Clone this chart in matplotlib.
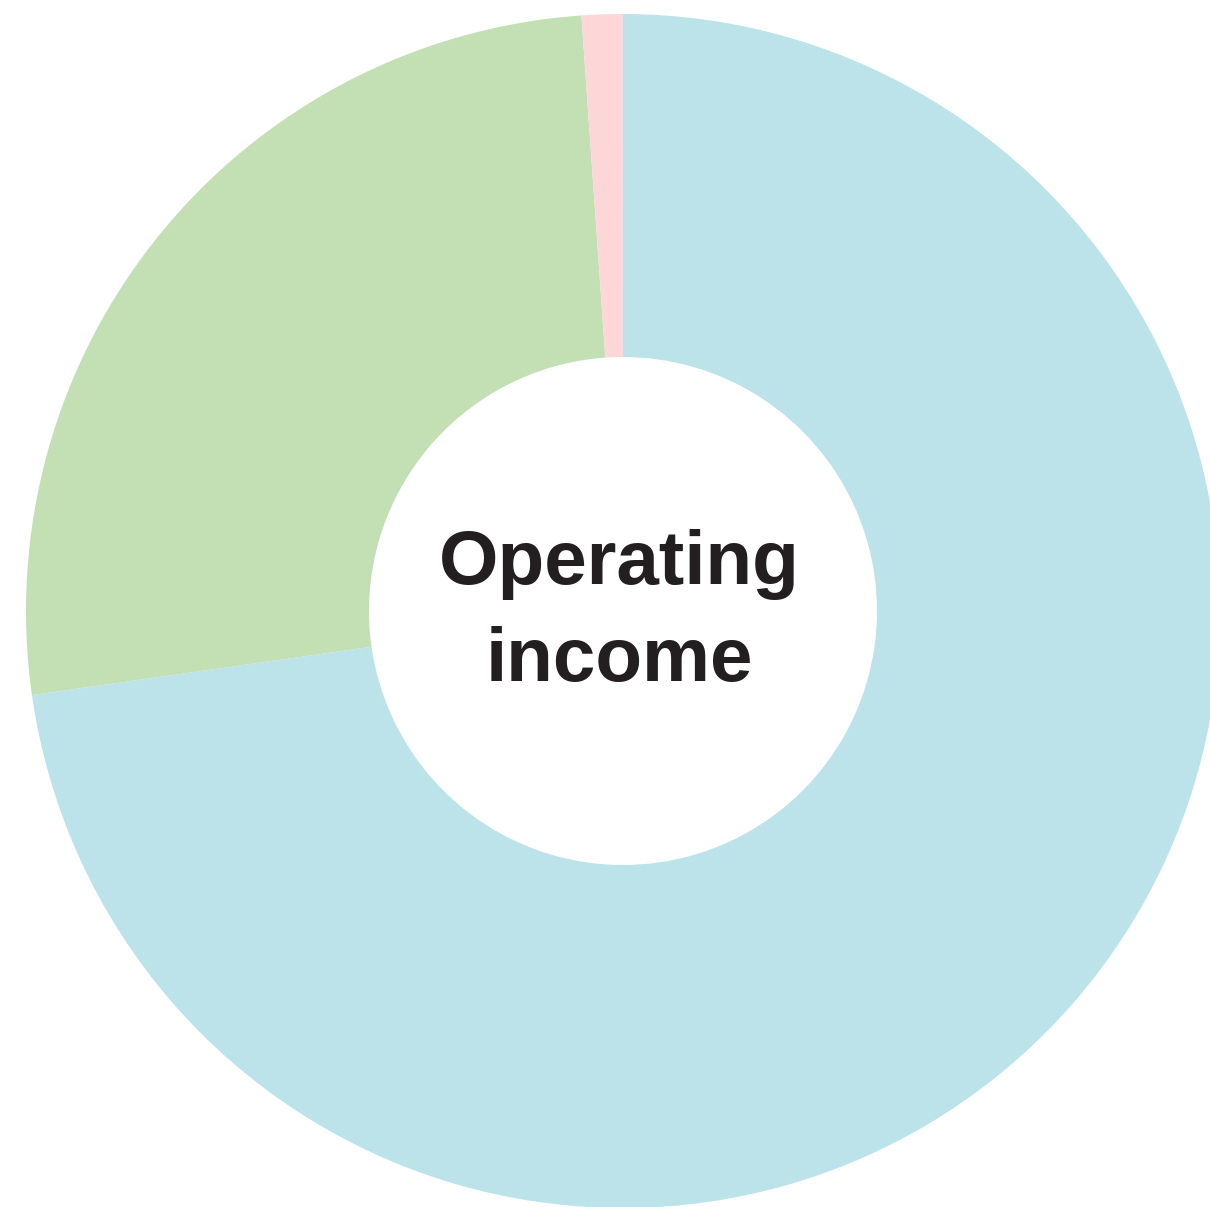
import matplotlib.pyplot as plt

# operating income split, clockwise from 12 o'clock
segments = ['Segment A', 'Segment B', 'Segment C']
shares = [72.75, 26.14, 1.11]
colors = ['#BBE3E9', '#C2E0B4', '#FDD7D8']
center_label = 'Operating\nincome'

fig = plt.figure(figsize=(12.10, 12.07), dpi=100)
ax = fig.add_axes([0, 0, 1, 1])

outer_r = 597
inner_r = 254
ax.pie(shares, labels=None, colors=colors, startangle=90, counterclock=False,
       center=(623, 596), radius=outer_r,
       wedgeprops=dict(width=outer_r - inner_r, linewidth=0))

ax.text(619, 594, center_label, ha='center', va='center',
        fontsize=55, fontweight='bold', color='#231F20',
        family='Liberation Sans', linespacing=1.48)

ax.set_xlim(0, 1210)
ax.set_ylim(0, 1207)
ax.set_aspect('equal')
ax.axis('off')

fig.savefig('out.png', dpi=100, facecolor='white')
